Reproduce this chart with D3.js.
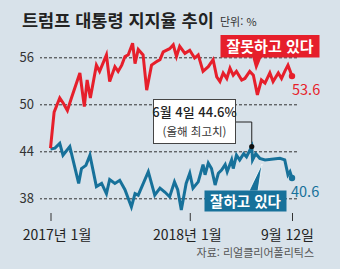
<!DOCTYPE html>
<html lang="ko">
<head>
<meta charset="utf-8">
<title>트럼프 대통령 지지율 추이</title>
<script src="https://d3js.org/d3.v7.min.js"></script>
<style>
  html, body { margin: 0; padding: 0; background: #d8e2ea; }
  svg { display: block; font-family: "Noto Sans CJK KR", "Noto Sans", sans-serif; }
  .grid .tick line { stroke: #333; stroke-dasharray: 3 2; }
  .grid .domain, .xaxis .domain { display: none; }
  .xaxis .tick line { stroke: #333; }
</style>
</head>
<body>
<div id="chart"></div>
<script>
// disapproval (잘못하고 있다)
const badDates = ["2017-01-20","2017-01-29","2017-02-12","2017-02-20","2017-03-03","2017-03-13","2017-04-03","2017-04-14","2017-04-21","2017-04-29","2017-05-14","2017-05-22","2017-06-08","2017-06-16","2017-06-29","2017-07-07","2017-07-16","2017-07-24","2017-08-01","2017-08-12","2017-08-18","2017-08-26","2017-09-07","2017-09-16","2017-09-28","2017-10-09","2017-10-19","2017-10-27","2017-11-12","2017-11-21","2017-11-29","2017-12-07","2017-12-20","2018-01-01","2018-01-13","2018-01-22","2018-02-03","2018-02-16","2018-02-28","2018-03-09","2018-03-17","2018-03-25","2018-04-03","2018-04-11","2018-04-19","2018-04-27","2018-05-10","2018-05-18","2018-05-30","2018-06-08","2018-06-18","2018-06-28","2018-07-07","2018-07-19","2018-07-27","2018-08-09","2018-08-17","2018-08-25","2018-09-02","2018-09-12"];
const badValues = [44.4,49.0,50.8,50.2,49.2,50.8,54.0,49.7,53.1,50.8,55.0,54.2,56.3,52.9,54.8,54.2,55.0,56.1,56.3,57.8,55.2,57.0,56.3,51.8,55.0,55.4,55.7,56.7,57.1,57.6,56.1,57.4,56.5,56.9,55.9,56.3,54.2,54.8,55.7,53.5,52.9,54.0,53.3,54.6,53.7,54.2,53.1,53.3,54.2,53.7,51.2,53.1,52.7,54.0,52.9,54.0,53.3,54.2,55.0,53.6];

// approval (잘하고 있다)
const goodDates = ["2017-01-20","2017-01-31","2017-02-12","2017-02-20","2017-03-09","2017-03-31","2017-04-07","2017-04-18","2017-04-28","2017-05-14","2017-05-27","2017-06-08","2017-06-16","2017-06-29","2017-07-11","2017-07-24","2017-08-09","2017-08-18","2017-08-26","2017-09-20","2017-10-06","2017-10-19","2017-10-31","2017-11-12","2017-11-24","2017-12-02","2017-12-11","2017-12-23","2018-01-01","2018-01-09","2018-01-22","2018-02-03","2018-02-08","2018-02-16","2018-02-24","2018-03-05","2018-03-13","2018-03-21","2018-03-30","2018-04-04","2018-04-15","2018-04-19","2018-04-27","2018-05-05","2018-05-15","2018-05-22","2018-06-04","2018-06-06","2018-06-14","2018-06-24","2018-07-07","2018-08-13","2018-08-25","2018-09-02","2018-09-07","2018-09-12"];
const goodValues = [44.3,44.4,45.0,43.5,44.6,39.9,41.8,42.2,43.5,39.5,39.9,38.6,40.4,39.9,40.3,39.1,36.9,38.6,38.4,41.4,38.4,39.3,38.8,38.2,40.1,39.1,36.5,39.9,41.2,39.3,40.1,42.3,41.0,42.5,41.8,39.7,41.2,41.6,42.3,41.4,42.9,41.8,43.5,42.9,43.7,43.3,44.6,42.9,43.7,43.1,42.9,43.1,42.9,41.0,41.4,40.6];

const yTicks = [38, 44, 50, 56];
const xTickDates = ["2017-01-20", "2018-01-01", "2018-09-12"];
const xTickLabels = ["2017년 1월", "2018년 1월", "9월 12일"];
const peakDate = "2018-06-04", peakValue = 44.6;

const W = 340, H = 269;
const parse = d3.timeParse("%Y-%m-%d");
const red = "#e61f2b", blue = "#17719a";

const svg = d3.select("#chart").append("svg").attr("width", W).attr("height", H);

const x = d3.scaleTime()
  .domain([parse("2017-01-20"), parse("2018-09-12")])
  .range([50.5, 292]);
const y = d3.scaleLinear().domain([38, 56]).range([198.3, 57.3]);

// title
svg.append("text").attr("x", 22).attr("y", 27)
  .attr("font-size", 17.5).attr("font-weight", 700).attr("fill", "#222")
  .text("트럼프 대통령 지지율 추이");
svg.append("text").attr("x", 220).attr("y", 26)
  .attr("font-size", 11).attr("fill", "#333").text("단위: %");

// grid + y labels
svg.append("g").attr("class", "grid")
  .attr("transform", "translate(297,0)")
  .call(d3.axisLeft(y).tickValues(yTicks).tickSize(257).tickPadding(6))
  .call(g => g.selectAll("text").attr("font-size", 13).attr("fill", "#333")
    .attr("font-family", "Noto Sans CJK KR"));

// x axis ticks
const tickOff = [6, -3, -5];
svg.append("g").attr("class", "xaxis")
  .attr("transform", "translate(0,213)")
  .call(d3.axisBottom(x).tickValues(xTickDates.map(parse)).tickSize(8).tickPadding(9)
    .tickFormat((d, i) => xTickLabels[i]))
  .call(g => g.selectAll("text").attr("font-size", 14).attr("fill", "#222")
    .attr("font-family", "Noto Sans CJK KR")
    .attr("dx", (d, i) => tickOff[i]));

const line = d3.line().x(d => x(d[0])).y(d => y(d[1]));
const good = goodDates.map((d, i) => [parse(d), goodValues[i]]);
const bad = badDates.map((d, i) => [parse(d), badValues[i]]);

// annotation connector (behind lines)
const px = x(parse(peakDate)), py = y(peakValue);
svg.append("path")
  .attr("d", `M236,122H${px}V${py}`)
  .attr("fill", "none").attr("stroke", "#222").attr("stroke-width", 1);

svg.append("path").datum(good).attr("d", line)
  .attr("fill", "none").attr("stroke", blue).attr("stroke-width", 3).attr("stroke-linejoin", "miter");
svg.append("path").datum(bad).attr("d", line)
  .attr("fill", "none").attr("stroke", red).attr("stroke-width", 3).attr("stroke-linejoin", "miter");

// end dots + labels
const gLast = good[good.length - 1], bLast = bad[bad.length - 1];
svg.append("circle").attr("cx", x(bLast[0])).attr("cy", y(bLast[1])).attr("r", 3.2).attr("fill", red);
svg.append("circle").attr("cx", x(gLast[0])).attr("cy", y(gLast[1])).attr("r", 3.2).attr("fill", blue);
svg.append("text").attr("x", x(bLast[0])).attr("y", 95).attr("font-size", 14.5).attr("fill", red)
  .text(bLast[1].toFixed(1));
svg.append("text").attr("x", x(gLast[0]) - 1).attr("y", 197).attr("font-size", 14.5).attr("fill", blue)
  .text(gLast[1].toFixed(1));

// peak dot + box
svg.append("circle").attr("cx", px).attr("cy", py).attr("r", 2.6).attr("fill", "#111");
svg.append("rect").attr("x", 153.5).attr("y", 99.5).attr("width", 82).attr("height", 44)
  .attr("fill", "#fff").attr("stroke", "#444").attr("stroke-width", 1);
svg.append("text").attr("x", 194.5).attr("y", 117).attr("text-anchor", "middle")
  .attr("font-size", 13).attr("font-weight", 500).attr("fill", "#222")
  .text(`6월 4일 ${peakValue}%`);
svg.append("text").attr("x", 194.5).attr("y", 135.5).attr("text-anchor", "middle")
  .attr("font-size", 11.5).attr("fill", "#333").text("(올해 최고치)");

// callout labels
svg.append("path").attr("d", "M252,56L256,71L262,56Z").attr("fill", red);
svg.append("rect").attr("x", 220.5).attr("y", 35).attr("width", 99).attr("height", 22.5).attr("fill", red);
svg.append("text").attr("x", 270).attr("y", 52).attr("text-anchor", "middle")
  .attr("font-size", 15).attr("font-weight", 700).attr("fill", "#fff").text("잘못하고 있다");

svg.append("path").attr("d", "M249,191L262,164L258,191Z").attr("fill", blue)
  .attr("stroke", "#fff").attr("stroke-width", 0.8);
svg.append("rect").attr("x", 204.5).attr("y", 190.5).attr("width", 82).attr("height", 21).attr("fill", blue);
svg.append("text").attr("x", 245.5).attr("y", 206.5).attr("text-anchor", "middle")
  .attr("font-size", 14.5).attr("font-weight", 700).attr("fill", "#fff").text("잘하고 있다");

// source
svg.append("text").attr("x", 314).attr("y", 257).attr("text-anchor", "end")
  .attr("font-size", 11).attr("fill", "#555").text("자료: 리얼클리어폴리틱스");
</script>
</body>
</html>
